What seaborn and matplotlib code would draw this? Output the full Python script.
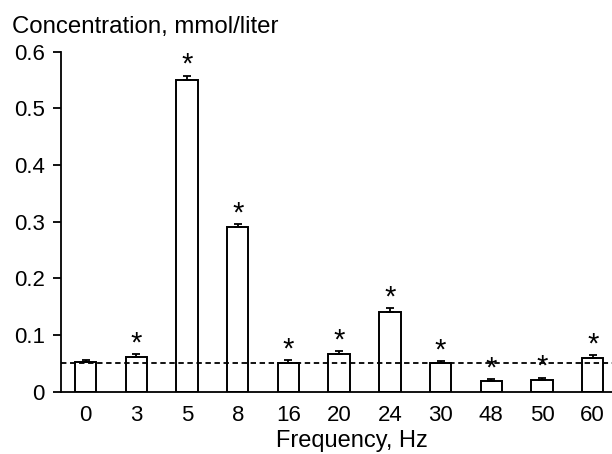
import matplotlib
matplotlib.use("Agg")
import matplotlib.pyplot as plt
import seaborn as sns
import pandas as pd
import numpy as np

frequencies = ["0", "3", "5", "8", "16", "20", "24", "30", "48", "50", "60"]
concentration = [0.053, 0.062, 0.550, 0.290, 0.051, 0.066, 0.140, 0.050, 0.019, 0.020, 0.060]
errors = [0.003, 0.004, 0.008, 0.006, 0.005, 0.005, 0.007, 0.004, 0.003, 0.005, 0.005]
significant = [False, True, True, True, True, True, True, True, True, True, True]
baseline = 0.05
yticks = [0, 0.1, 0.2, 0.3, 0.4, 0.5, 0.6]
ytick_labels = ["0", "0.1", "0.2", "0.3", "0.4", "0.5", "0.6"]

sns.set_style("ticks")
plt.rcParams['font.family'] = ['Liberation Sans', 'DejaVu Sans']
plt.rcParams['text.color'] = 'black'
plt.rcParams['axes.labelcolor'] = 'black'
plt.rcParams['xtick.color'] = 'black'
plt.rcParams['ytick.color'] = 'black'

df = pd.DataFrame({"freq": frequencies, "conc": concentration})

fig = plt.figure(figsize=(6.12, 4.54), dpi=100)
ax = fig.add_axes([0.0992, 0.1372, 0.9008, 0.7489])

sns.barplot(data=df, x="freq", y="conc", ax=ax, color="white",
            edgecolor="black", linewidth=1.4, width=0.424, errorbar=None,
            saturation=1)

x = np.arange(len(frequencies))
ax.errorbar(x, concentration, yerr=[np.zeros(len(errors)), errors], fmt="none",
            ecolor="black", elinewidth=1.3, capsize=3, capthick=1.3, zorder=3)

for xi, v, e, s in zip(x, concentration, errors, significant):
    if s:
        ax.annotate("*", xy=(xi, v + e), xytext=(0, 2), textcoords="offset points",
                    ha="center", va="baseline", fontsize=21, color="black")

ax.axhline(baseline, color="black", linestyle=(0, (3, 2)), linewidth=1.3, zorder=4)

ax.set_ylim(0, 0.6)
ax.set_xlim(-0.49, 10.38)
ax.set_yticks(yticks)
ax.set_yticklabels(ytick_labels, fontsize=16)
ax.tick_params(axis="y", direction="out", length=5.5, width=1.3, pad=6, colors="black")
ax.tick_params(axis="x", length=0, labelsize=16, pad=9.5, colors="black")

sns.despine(ax=ax, top=True, right=True)
for sp in ["left", "bottom"]:
    ax.spines[sp].set_linewidth(1.3)
    ax.spines[sp].set_color("black")

ax.set_xlabel("Frequency, Hz", fontsize=17, color="black")
ax.xaxis.set_label_coords(0.528, -0.113)
ax.set_ylabel("")
fig.text(0.0196, 1 - 33.3 / 454, "Concentration, mmol/liter", fontsize=17.3,
         ha="left", va="baseline", color="black")

fig.savefig("out.png", dpi=100)
